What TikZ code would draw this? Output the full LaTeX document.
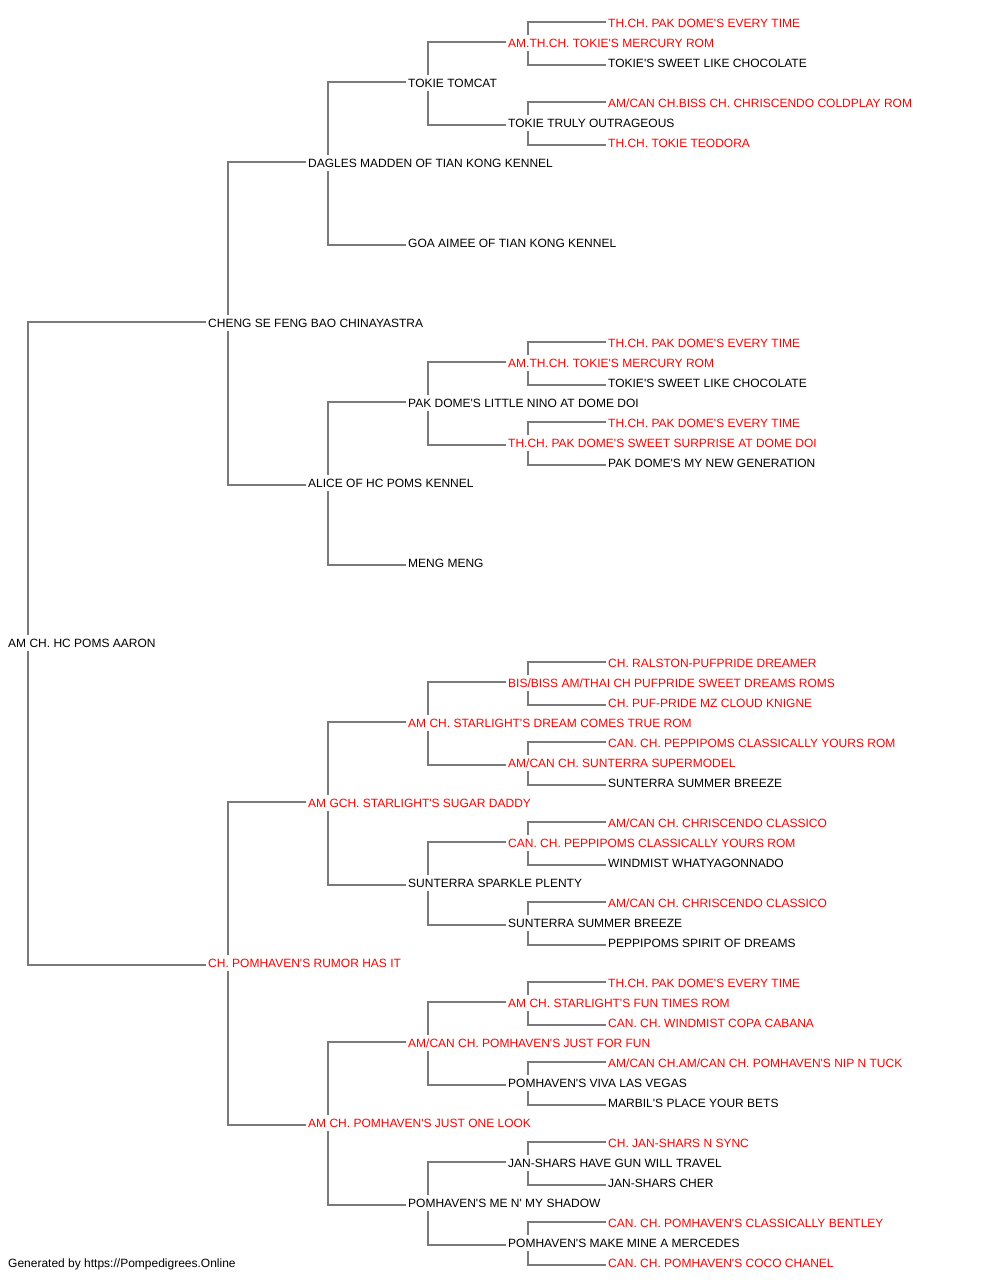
\documentclass[tikz,border=0pt]{standalone}
\usepackage{fontspec}
\setmainfont{Liberation Sans}
\usetikzlibrary{backgrounds}
\definecolor{pedred}{HTML}{FF0000}
\definecolor{linegray}{HTML}{7A7A7A}
\newcommand\ap{\textquotesingle}
\tikzset{
  ped/.style={anchor=west, fill=white, inner xsep=2pt, inner ysep=2.5pt,
    text height=10.5pt, text depth=0.9pt, font=\fontsize{12}{14}\selectfont, text=black},
  redtxt/.style={ped, text=pedred},
  foot/.style={anchor=west, inner xsep=2pt, font=\fontsize{12}{14}\selectfont, text=black,
    text height=10.5pt, text depth=0.9pt},
  link/.style={draw=linegray, line width=1.3pt}
}
\begin{document}
\begin{tikzpicture}[x=1pt,y=-1pt]
\useasboundingbox (0,0) rectangle (1000,1280);
\begin{pgfonlayer}{background}
\fill[white] (0,0) rectangle (1000,1280);
\end{pgfonlayer}
% generation 0
\node[ped] (r) at (6,643) {AM CH. HC POMS AARON};
% generation 1
\node[ped] (r1) at (206,323) {CHENG SE FENG BAO CHINAYASTRA};
\node[redtxt] (r2) at (206,963) {CH. POMHAVEN\ap S RUMOR HAS IT};
% generation 2
\node[ped] (r11) at (306,163) {DAGLES MADDEN OF TIAN KONG KENNEL};
\node[ped] (r12) at (306,483) {ALICE OF HC POMS KENNEL};
\node[redtxt] (r21) at (306,803) {AM GCH. STARLIGHT\ap S SUGAR DADDY};
\node[redtxt] (r22) at (306,1123) {AM CH. POMHAVEN\ap S JUST ONE LOOK};
% generation 3
\node[ped] (r111) at (406,83) {TOKIE TOMCAT};
\node[ped] (r112) at (406,243) {GOA AIMEE OF TIAN KONG KENNEL};
\node[ped] (r121) at (406,403) {PAK DOME\ap S LITTLE NINO AT DOME DOI};
\node[ped] (r122) at (406,563) {MENG MENG};
\node[redtxt] (r211) at (406,723) {AM CH. STARLIGHT\ap S DREAM COMES TRUE ROM};
\node[ped] (r212) at (406,883) {SUNTERRA SPARKLE PLENTY};
\node[redtxt] (r221) at (406,1043) {AM/CAN CH. POMHAVEN\ap S JUST FOR FUN};
\node[ped] (r222) at (406,1203) {POMHAVEN\ap S ME N\ap\ MY SHADOW};
% generation 4
\node[redtxt] (r1111) at (506,43) {AM.TH.CH. TOKIE\ap S MERCURY ROM};
\node[ped] (r1112) at (506,123) {TOKIE TRULY OUTRAGEOUS};
\node[redtxt] (r1211) at (506,363) {AM.TH.CH. TOKIE\ap S MERCURY ROM};
\node[redtxt] (r1212) at (506,443) {TH.CH. PAK DOME\ap S SWEET SURPRISE AT DOME DOI};
\node[redtxt] (r2111) at (506,683) {BIS/BISS AM/THAI CH PUFPRIDE SWEET DREAMS ROMS};
\node[redtxt] (r2112) at (506,763) {AM/CAN CH. SUNTERRA SUPERMODEL};
\node[redtxt] (r2121) at (506,843) {CAN. CH. PEPPIPOMS CLASSICALLY YOURS ROM};
\node[ped] (r2122) at (506,923) {SUNTERRA SUMMER BREEZE};
\node[redtxt] (r2211) at (506,1003) {AM CH. STARLIGHT\ap S FUN TIMES ROM};
\node[ped] (r2212) at (506,1083) {POMHAVEN\ap S VIVA LAS VEGAS};
\node[ped] (r2221) at (506,1163) {JAN-SHARS HAVE GUN WILL TRAVEL};
\node[ped] (r2222) at (506,1243) {POMHAVEN\ap S MAKE MINE A MERCEDES};
% generation 5
\node[redtxt] (r11111) at (606,23) {TH.CH. PAK DOME\ap S EVERY TIME};
\node[ped] (r11112) at (606,63) {TOKIE\ap S SWEET LIKE CHOCOLATE};
\node[redtxt] (r11121) at (606,103) {AM/CAN CH.BISS CH. CHRISCENDO COLDPLAY ROM};
\node[redtxt] (r11122) at (606,143) {TH.CH. TOKIE TEODORA};
\node[redtxt] (r12111) at (606,343) {TH.CH. PAK DOME\ap S EVERY TIME};
\node[ped] (r12112) at (606,383) {TOKIE\ap S SWEET LIKE CHOCOLATE};
\node[redtxt] (r12121) at (606,423) {TH.CH. PAK DOME\ap S EVERY TIME};
\node[ped] (r12122) at (606,463) {PAK DOME\ap S MY NEW GENERATION};
\node[redtxt] (r21111) at (606,663) {CH. RALSTON-PUFPRIDE DREAMER};
\node[redtxt] (r21112) at (606,703) {CH. PUF-PRIDE MZ CLOUD KNIGNE};
\node[redtxt] (r21121) at (606,743) {CAN. CH. PEPPIPOMS CLASSICALLY YOURS ROM};
\node[ped] (r21122) at (606,783) {SUNTERRA SUMMER BREEZE};
\node[redtxt] (r21211) at (606,823) {AM/CAN CH. CHRISCENDO CLASSICO};
\node[ped] (r21212) at (606,863) {WINDMIST WHATYAGONNADO};
\node[redtxt] (r21221) at (606,903) {AM/CAN CH. CHRISCENDO CLASSICO};
\node[ped] (r21222) at (606,943) {PEPPIPOMS SPIRIT OF DREAMS};
\node[redtxt] (r22111) at (606,983) {TH.CH. PAK DOME\ap S EVERY TIME};
\node[redtxt] (r22112) at (606,1023) {CAN. CH. WINDMIST COPA CABANA};
\node[redtxt] (r22121) at (606,1063) {AM/CAN CH.AM/CAN CH. POMHAVEN\ap S NIP N TUCK};
\node[ped] (r22122) at (606,1103) {MARBIL\ap S PLACE YOUR BETS};
\node[redtxt] (r22211) at (606,1143) {CH. JAN-SHARS N SYNC};
\node[ped] (r22212) at (606,1183) {JAN-SHARS CHER};
\node[redtxt] (r22221) at (606,1223) {CAN. CH. POMHAVEN\ap S CLASSICALLY BENTLEY};
\node[redtxt] (r22222) at (606,1263) {CAN. CH. POMHAVEN\ap S COCO CHANEL};
% footer
\node[foot] (gen) at (6,1263) {Generated by https://Pompedigrees.Online};
% connectors
\begin{pgfonlayer}{background}
\foreach \p in {r,r1,r2,r11,r12,r21,r22,r111,r121,r211,r212,r221,r222,
  r1111,r1112,r1211,r1212,r2111,r2112,r2121,r2122,r2211,r2212,r2221,r2222}{
  \draw[link] ([xshift=22pt]\p.west) |- ([yshift=1pt]\p1.west);
  \draw[link] ([xshift=22pt]\p.west) |- ([yshift=-2pt]\p2.west);
}
\end{pgfonlayer}
\end{tikzpicture}
\end{document}
